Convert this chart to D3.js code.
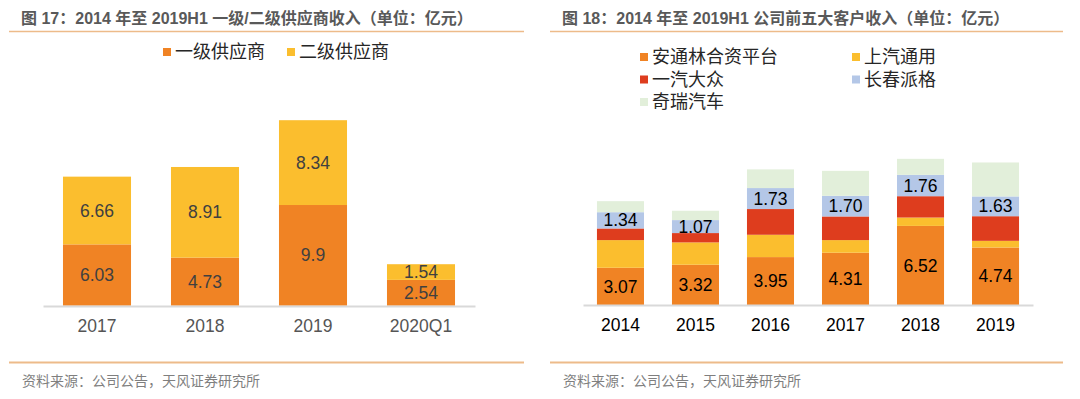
<!DOCTYPE html>
<html>
<head>
<meta charset="utf-8">
<script src="https://cdn.jsdelivr.net/npm/d3@7"></script>
<style>
  body { margin: 0; background: #fff; }
  svg { display: block; font-family: "Liberation Sans", Arial, "Noto Sans CJK SC", sans-serif; }
  .cjk { font-family: "Liberation Sans", "Noto Sans CJK SC", sans-serif; }
</style>
</head>
<body>
<svg id="chart" width="1080" height="399"></svg>
<script>
// left chart: supplier tiers
var years1 = ["2017", "2018", "2019", "2020Q1"]
var tier1 = [6.03, 4.73, 9.9, 2.54]
var tier2 = [6.66, 8.91, 8.34, 1.54]
var keys1 = ["一级供应商", "二级供应商"]

// right chart: top 5 customers
var years2 = ["2014", "2015", "2016", "2017", "2018", "2019"]
var antolin = [3.07, 3.32, 3.95, 4.31, 6.52, 4.74]
var saicGM = [2.28, 1.84, 1.84, 1.04, 0.69, 0.55]
var faw = [0.96, 0.77, 2.12, 1.95, 1.76, 2.03]
var paige = [1.34, 1.07, 1.73, 1.70, 1.76, 1.63]
var chery = [0.91, 0.77, 1.54, 2.06, 1.32, 2.80]
var keys2 = ["安通林合资平台", "上汽通用", "一汽大众", "长春派格", "奇瑞汽车"]

var svg = d3.select("#chart")
var lineColor = "#EDBB8A"

// titles + rules
function panel(x0, x1, title) {
	svg.append("text").attr("class", "cjk")
		.attr("x", x0 + 12).attr("y", 18).attr("dy", "0.35em")
		.attr("font-size", 16).attr("font-weight", "bold").attr("fill", "#595959")
		.text(title)
	svg.append("line").attr("x1", x0).attr("x2", x1).attr("y1", 31.5).attr("y2", 31.5)
		.attr("stroke", lineColor).attr("stroke-width", 1.5)
	svg.append("line").attr("x1", x0).attr("x2", x1).attr("y1", 362.5).attr("y2", 362.5)
		.attr("stroke", lineColor).attr("stroke-width", 2)
	svg.append("text").attr("class", "cjk")
		.attr("x", x0 + 13).attr("y", 381.5).attr("dy", "0.35em")
		.attr("font-size", 14).attr("fill", "#7f7f7f")
		.text("资料来源：公司公告，天风证券研究所")
}
panel(9, 524, "图 17：2014 年至 2019H1 一级/二级供应商收入（单位：亿元）")
panel(550, 1063, "图 18：2014 年至 2019H1 公司前五大客户收入（单位：亿元）")

// ---------- left chart
var z1 = d3.scaleOrdinal().domain(keys1).range(["#F08324", "#FBBE2E"])
var data1 = years1.map((y, i) => ({year: y, "一级供应商": tier1[i], "二级供应商": tier2[i]}))

var x1 = d3.scaleBand().domain(years1).range([43, 475]).paddingInner(0.37).paddingOuter(0.185)
var y1 = d3.scaleLinear().domain([0, 20]).range([305.7, 102.3])

var stack1 = d3.stack().keys(keys1)(data1)

var g1 = svg.append("g")
g1.selectAll("g.layer").data(stack1).enter().append("g")
	.attr("fill", d => z1(d.key))
	.selectAll("rect").data(d => d).enter().append("rect")
	.attr("x", d => x1(d.data.year))
	.attr("width", x1.bandwidth())
	.attr("y", d => y1(d[1]))
	.attr("height", d => y1(d[0]) - y1(d[1]))

stack1.forEach(function(layer) {
	g1.selectAll(null).data(layer).enter().append("text")
		.attr("x", d => x1(d.data.year) + x1.bandwidth() / 2)
		.attr("y", d => (y1(d[0]) + y1(d[1])) / 2)
		.attr("dy", "0.35em")
		.attr("text-anchor", "middle")
		.attr("font-size", 17.5).attr("fill", "#404040")
		.text(d => String(d.data[layer.key]))
})

var ax1 = g1.append("g").attr("transform", "translate(0,306)")
	.call(d3.axisBottom(x1).tickSize(0).tickPadding(14))
ax1.select(".domain").attr("stroke", "#D9D9D9").attr("stroke-width", 2)
ax1.selectAll("text").attr("font-size", 17.5).attr("fill", "#555")
	.attr("font-family", "Liberation Sans, Arial, sans-serif")

// legend left
var leg1 = svg.append("g").selectAll("g").data(keys1).enter().append("g")
	.attr("transform", (d, i) => `translate(${[163, 287][i]},52)`)
leg1.append("rect").attr("x", 0).attr("y", -4).attr("width", 8).attr("height", 8).attr("fill", d => z1(d))
leg1.append("text").attr("class", "cjk").attr("x", 12).attr("dy", "0.35em")
	.attr("font-size", 18).attr("fill", "#262626").text(d => d)

// ---------- right chart
var z2 = d3.scaleOrdinal().domain(keys2).range(["#F08324", "#FBBE2E", "#DE3D1E", "#B4C7E7", "#E2EFDA"])
var series2 = [antolin, saicGM, faw, paige, chery]
var data2 = years2.map(function(y, i) {
	var row = {year: y}
	keys2.forEach((k, j) => row[k] = series2[j][i])
	return row
})

var x2 = d3.scaleBand().domain(years2).range([583, 1033]).paddingInner(0.373).paddingOuter(0.186)
var y2 = d3.scaleLinear().domain([0, 12]).range([305, 305 - 12 * 12.13])

var stack2 = d3.stack().keys(keys2)(data2)

var g2 = svg.append("g")
g2.selectAll("g.layer").data(stack2).enter().append("g")
	.attr("fill", d => z2(d.key))
	.selectAll("rect").data(d => d).enter().append("rect")
	.attr("x", d => x2(d.data.year))
	.attr("width", x2.bandwidth())
	.attr("y", d => y2(d[1]))
	.attr("height", d => y2(d[0]) - y2(d[1]))

var fmt = d3.format(".2f")
stack2.filter(l => l.key == "安通林合资平台" || l.key == "长春派格").forEach(function(layer) {
	g2.selectAll(null).data(layer).enter().append("text")
		.attr("x", d => x2(d.data.year) + x2.bandwidth() / 2)
		.attr("y", d => (y2(d[0]) + y2(d[1])) / 2)
		.attr("dy", "0.35em")
		.attr("text-anchor", "middle")
		.attr("font-size", 17.5).attr("fill", "#000")
		.text(d => fmt(d.data[layer.key]))
})

var ax2 = g2.append("g").attr("transform", "translate(0,305)")
	.call(d3.axisBottom(x2).tickSize(0).tickPadding(14))
ax2.select(".domain").attr("stroke", "#D9D9D9").attr("stroke-width", 2)
ax2.selectAll("text").attr("font-size", 17.5).attr("fill", "#000")
	.attr("font-family", "Liberation Sans, Arial, sans-serif")

// legend right, two columns
var leg2 = svg.append("g").selectAll("g").data(keys2).enter().append("g")
	.attr("transform", (d, i) => `translate(${i % 2 ? 852 : 640},${57 + Math.floor(i / 2) * 22.5})`)
leg2.append("rect").attr("x", 0).attr("y", -4).attr("width", 8).attr("height", 8).attr("fill", d => z2(d))
leg2.append("text").attr("class", "cjk").attr("x", 12).attr("dy", "0.35em")
	.attr("font-size", 18).attr("fill", "#262626").text(d => d)
</script>
</body>
</html>
